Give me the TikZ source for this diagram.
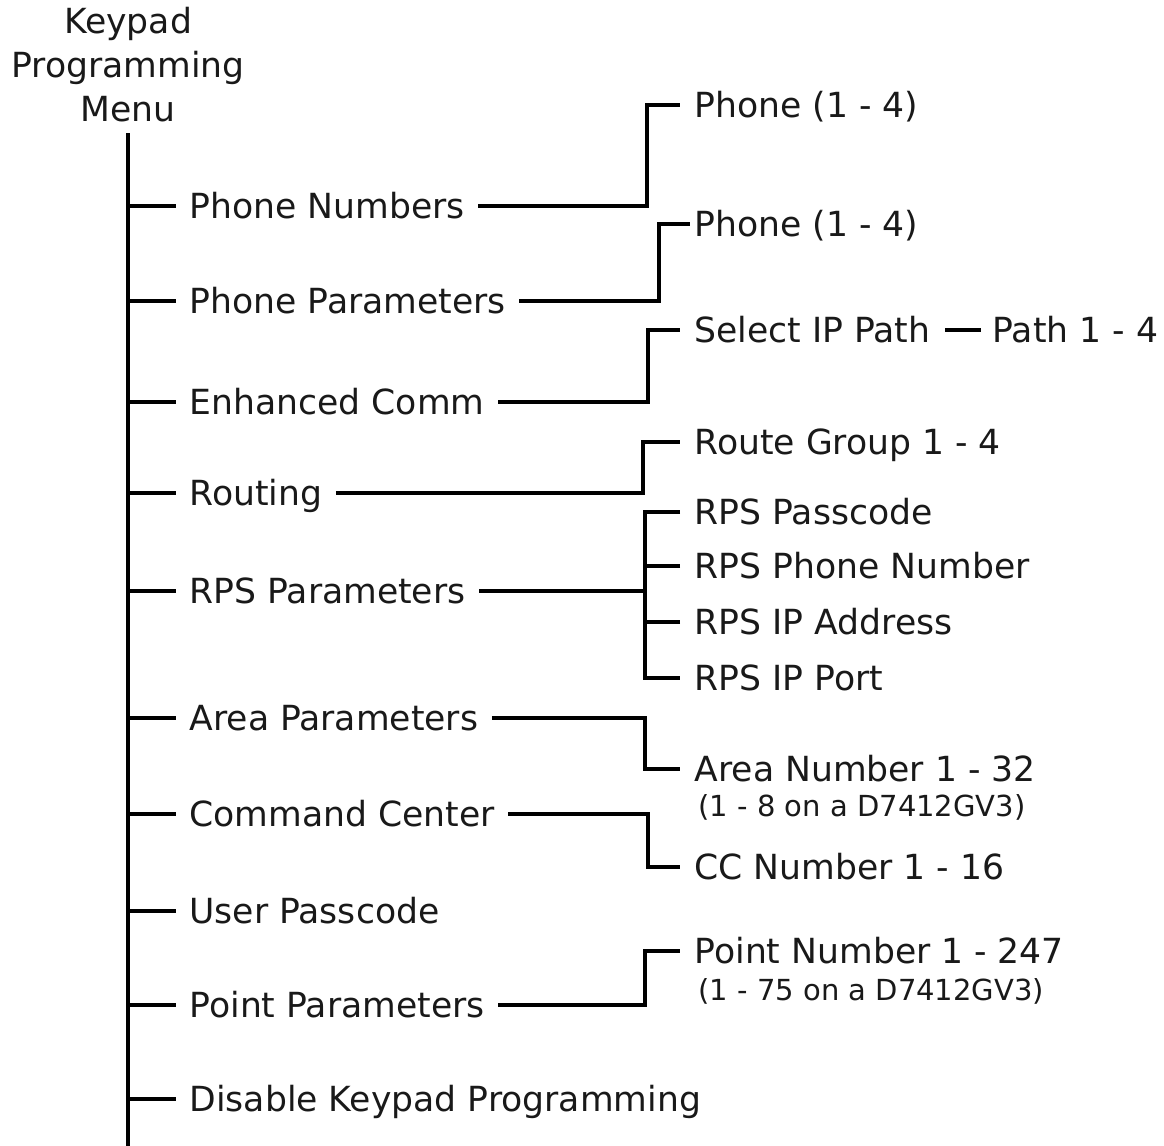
\documentclass[tikz,border=0pt]{standalone}
\usepackage{fontspec}
\setmainfont{DejaVu Sans}
\usetikzlibrary{positioning}

\begin{document}
\begin{tikzpicture}[x=0.5pt,y=-0.5pt,line width=1.6pt,
  title/.style={align=center,inner sep=0pt,inner ysep=4.5pt,text=black!90,font=\fontsize{17.3}{22}\selectfont},
  item/.style={anchor=west,inner ysep=0pt,inner xsep=6pt,text height=12.6pt,text depth=0pt,text=black!90,font=\fontsize{17.3}{20}\selectfont},
  sub/.style={item,inner xsep=6.5pt},
  note/.style={anchor=west,inner sep=0pt,text height=10.6pt,text depth=0pt,text=black!90,font=\fontsize{14.5}{17}\selectfont}]
\useasboundingbox (0,0) rectangle (1164,1146);

% root and trunk
\node[title,anchor=south] (menu) at (128,133) {Keypad\\Programming\\Menu};
\coordinate (trunk) at (128,1146);
\draw (menu.south) -- (trunk);

% first level
\node[item] (pnum) at (176,206) {Phone Numbers};
\node[item] (ppar) at (176,301) {Phone Parameters};
\node[item] (ecomm) at (176,402) {Enhanced Comm};
\node[item] (rout) at (176,493) {Routing};
\node[item] (rpsp) at (176,591) {RPS Parameters};
\node[item] (apar) at (176,718) {Area Parameters};
\node[item] (cmd) at (176,814) {Command Center};
\node[item] (upass) at (176,911) {User Passcode};
\node[item] (ptpar) at (176,1005) {Point Parameters};
\node[item] (dis) at (176,1099) {Disable Keypad Programming};
\foreach \n in {pnum,ppar,ecomm,rout,rpsp,apar,cmd,upass,ptpar,dis}
  \draw (\n.west -| menu.south) -- (\n.west);

% second level
\node[sub] (ph1) at (680,105) {Phone (1 - 4)};
\node[sub,inner xsep=1.5pt] (ph2) at (690,224) {Phone (1 - 4)};
\node[sub] (sip) at (680,330) {Select IP Path};
\node[item,inner xsep=5pt] (path) at (981,330) {Path 1 - 4};
\node[sub] (rgrp) at (680,442) {Route Group 1 - 4};
\node[sub] (rpass) at (680,512) {RPS Passcode};
\node[sub] (rphone) at (680,566) {RPS Phone Number};
\node[sub] (rip) at (680,622) {RPS IP Address};
\node[sub] (rport) at (680,678) {RPS IP Port};
\node[sub] (anum) at (680,769) {Area Number 1 - 32};
\node[note] (anote) at (697,806) {(1 - 8 on a D7412GV3)};
\node[sub] (ccnum) at (680,867) {CC Number 1 - 16};
\node[sub] (pnt) at (680,951) {Point Number 1 - 247};
\node[note] (pnote) at (697,990) {(1 - 75 on a D7412GV3)};

% junctions
\coordinate (j1) at (647,206);
\coordinate (j2) at (659,301);
\coordinate (j3) at (648,402);
\coordinate (j4) at (643,493);
\coordinate (j5) at (645,591);
\coordinate (j6) at (645,718);
\coordinate (j7) at (648,814);
\coordinate (j9) at (645,1005);

\draw (pnum.east) -- (j1) |- (ph1.west);
\draw (ppar.east) -- (j2) |- (ph2.west);
\draw (ecomm.east) -- (j3) |- (sip.west);
\draw (sip.east) -- (path.west);
\draw (rout.east) -- (j4) |- (rgrp.west);
\draw (rpsp.east) -- (j5);
\draw (rpass.west) -| (j5) |- (rport.west);
\draw (rphone.west) -- (rphone.west -| j5);
\draw (rip.west) -- (rip.west -| j5);
\draw (apar.east) -- (j6) |- (anum.west);
\draw (cmd.east) -- (j7) |- (ccnum.west);
\draw (ptpar.east) -- (j9) |- (pnt.west);
\end{tikzpicture}
\end{document}
